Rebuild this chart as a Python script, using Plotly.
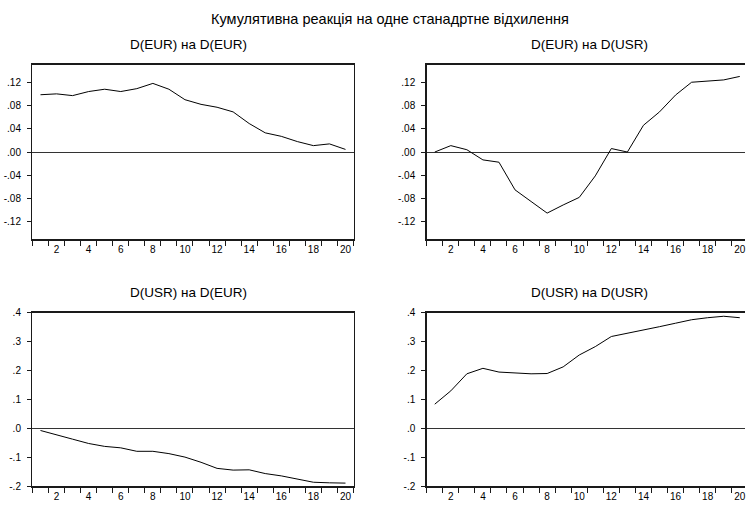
import plotly.graph_objects as go

periods = list(range(1, 21))

eur_on_eur = [0.0985, 0.100, 0.097, 0.104, 0.108, 0.104, 0.109, 0.118, 0.108, 0.090,
              0.082, 0.077, 0.069, 0.049, 0.033, 0.027, 0.018, 0.011, 0.014, 0.0045]
eur_on_usr = [0.000, 0.011, 0.004, -0.0135, -0.0175, -0.065, -0.085, -0.105, -0.091, -0.078,
              -0.041, 0.006, 0.000, 0.046, 0.069, 0.098, 0.120, 0.122, 0.124, 0.130]
usr_on_eur = [-0.007, -0.023, -0.037, -0.052, -0.062, -0.067, -0.079, -0.079, -0.087, -0.099,
              -0.117, -0.138, -0.144, -0.143, -0.156, -0.164, -0.176, -0.186, -0.188, -0.189]
usr_on_usr = [0.084, 0.130, 0.189, 0.208, 0.195, 0.193, 0.189, 0.190, 0.213, 0.254,
              0.283, 0.318, 0.329, 0.339, 0.352, 0.364, 0.376, 0.383, 0.388, 0.383]

main_title = "Кумулятивна реакція на одне станадртне відхилення"
panel_titles = ["D(EUR) на D(EUR)", "D(EUR) на D(USR)", "D(USR) на D(EUR)", "D(USR) на D(USR)"]

x_tickvals = [2, 4, 6, 8, 10, 12, 14, 16, 18, 20]
x_ticktext = ["2", "4", "6", "8", "10", "12", "14", "16", "18", "20"]
top_tickvals = [0.12, 0.08, 0.04, 0.0, -0.04, -0.08, -0.12]
top_ticktext = [".12", ".08", ".04", ".00", "-.04", "-.08", "-.12"]
bot_tickvals = [0.4, 0.3, 0.2, 0.1, 0.0, -0.1, -0.2]
bot_ticktext = [".4", ".3", ".2", ".1", ".0", "-.1", "-.2"]

W, H = 746, 506
FONT = "Liberation Sans, Arial, sans-serif"

# panel geometry in pixels (left, right, top, bottom)
panels = [
    (32.5, 354.0, 61.0, 239.0),
    (427.3, 746.0, 61.0, 239.0),
    (32.5, 354.0, 314.0, 491.0),
    (427.3, 746.0, 314.0, 491.0),
]
title_cx = [189, 590, 189, 590]
series = [eur_on_eur, eur_on_usr, usr_on_eur, usr_on_usr]
yranges = [[-0.15, 0.15], [-0.15, 0.15], [-0.2, 0.4], [-0.2, 0.4]]
yticks = [(top_tickvals, top_ticktext), (top_tickvals, top_ticktext),
          (bot_tickvals, bot_ticktext), (bot_tickvals, bot_ticktext)]
unit = (354.0 - 32.5) / 20.0

fig = go.Figure()
layout = dict(
    width=W, height=H,
    margin=dict(l=0, r=0, t=0, b=0),
    paper_bgcolor="white", plot_bgcolor="white",
    showlegend=False,
    font=dict(family=FONT, color="black", size=10),
    annotations=[],
)

for i, (l, r, t, b) in enumerate(panels):
    n = i + 1
    xa = "x" if n == 1 else f"x{n}"
    ya = "y" if n == 1 else f"y{n}"
    fig.add_trace(go.Scatter(x=periods, y=series[i], mode="lines",
                             line=dict(color="black", width=1),
                             xaxis=xa, yaxis=ya, hoverinfo="skip"))
    xmax = 0.5 + (r - l) / unit
    right_side = (i % 2 == 1)
    layout["xaxis" if n == 1 else f"xaxis{n}"] = dict(
        domain=[l / W, r / W], anchor=ya, range=[0.5, xmax],
        tickmode="array", tickvals=x_tickvals, ticktext=x_ticktext,
        ticks="", showgrid=False, zeroline=False,
        showline=True, linecolor="#1a1a1a", linewidth=1.5, mirror=True,
        tickfont=dict(size=10, family=FONT, color="black"),
        ticklabelstandoff=0, ticklabeloverflow="allow",
        minor=dict(tick0=0.5, dtick=1, ticks="outside", ticklen=5,
                   tickwidth=1, tickcolor="#1a1a1a", showgrid=False),
        fixedrange=True,
    )
    tv, tt = yticks[i]
    layout["yaxis" if n == 1 else f"yaxis{n}"] = dict(
        domain=[1 - b / H, 1 - t / H], anchor=xa, range=yranges[i],
        tickmode="array", tickvals=tv, ticktext=tt,
        ticks="outside", ticklen=4, tickwidth=1, tickcolor="#1a1a1a",
        showgrid=False, zeroline=True, zerolinecolor="#333333", zerolinewidth=1,
        showline=True, linecolor="#1a1a1a", linewidth=1.5,
        mirror=(not right_side),
        tickfont=dict(size=10, family=FONT, color="black"),
        ticklabelstandoff=4,
        fixedrange=True,
    )
    layout["annotations"].append(dict(
        text=panel_titles[i], x=title_cx[i] / W, y=1 - (t - 21) / H,
        xref="paper", yref="paper", xanchor="center", yanchor="middle",
        showarrow=False, font=dict(size=13.5, family=FONT, color="black")))

layout["annotations"].append(dict(
    text=main_title, x=391 / W, y=1 - 14 / H, xref="paper", yref="paper",
    xanchor="center", yanchor="middle", showarrow=False,
    font=dict(size=14.5, family=FONT, color="black")))

fig.update_layout(**layout)
fig.write_html("out.html", config={"displayModeBar": False, "staticPlot": True},
               post_script="document.body.style.margin='0px';document.body.style.padding='0px';document.body.style.overflow='hidden';")
